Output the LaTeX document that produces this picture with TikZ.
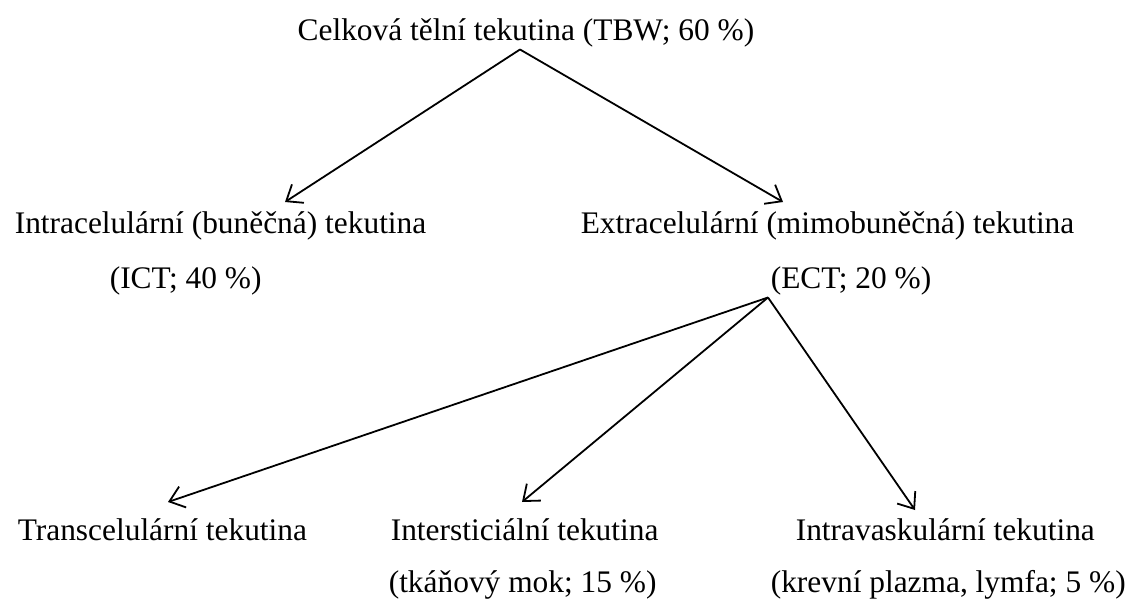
\documentclass[tikz,border=0pt]{standalone}
\usepackage{fontspec}
\setmainfont{Liberation Serif}
\usetikzlibrary{arrows.meta,positioning}

\begin{document}
\begin{tikzpicture}[x=0.5pt,y=0.5pt,yscale=-1,xscale=1,
    txt/.style={inner sep=1.2pt,font=\fontsize{15.7}{18.8}\selectfont},
    arr/.style={line width=0.9pt,-{Straight Barb[length=7pt,width=11pt,line width=0.9pt]}}]
    \useasboundingbox (0,0) rectangle (1137,600);

    % Text Node
    \node [txt,anchor=base] (tbw) at (526,40) {Celková tělní tekutina (TBW; 60 \%)};
    % Text Node
    \node [txt,anchor=base west] (icf) at (12,233) {Intracelulární (buněčná) tekutina};
    \node [txt,anchor=base west] (ict) at (107,288) {(ICT; 40 \%)};
    % Text Node
    \node [txt,anchor=base west] (ecf) at (578,233) {Extracelulární (mimobuněčná) tekutina};
    \node [txt,anchor=base west] (ect) at (768,288) {(ECT; 20 \%)};
    % Text Node
    \node [txt,anchor=base west] (trans) at (15,540) {Transcelulární tekutina};
    % Text Node
    \node [txt,anchor=base west] (inter) at (388,540) {Intersticiální tekutina};
    \node [txt,anchor=base west] (mok) at (386,592) {(tkáňový mok; 15 \%)};
    % Text Node
    \node [txt,anchor=base west] (intra) at (793,540) {Intravaskulární tekutina};
    \node [txt,anchor=base west] (plazma) at (768,592) {(krevní plazma, lymfa; 5 \%)};

    % arrow ends
    \coordinate (icf-in) at (285,202);
    \coordinate (ecf-in) at (783,202);
    \coordinate (trans-in) at (168,502);
    \coordinate (inter-in) at (522,502);
    \coordinate (intra-in) at (915,510);

    %Straight Lines
    \draw [arr] ([xshift=-3pt]tbw.south) -- (icf-in);
    \draw [arr] ([xshift=-3pt]tbw.south) -- (ecf-in);
    %Straight Lines
    \draw [arr] (ect.south west) -- (trans-in);
    \draw [arr] (ect.south west) -- (inter-in);
    \draw [arr] (ect.south west) -- (intra-in);

\end{tikzpicture}
\end{document}
